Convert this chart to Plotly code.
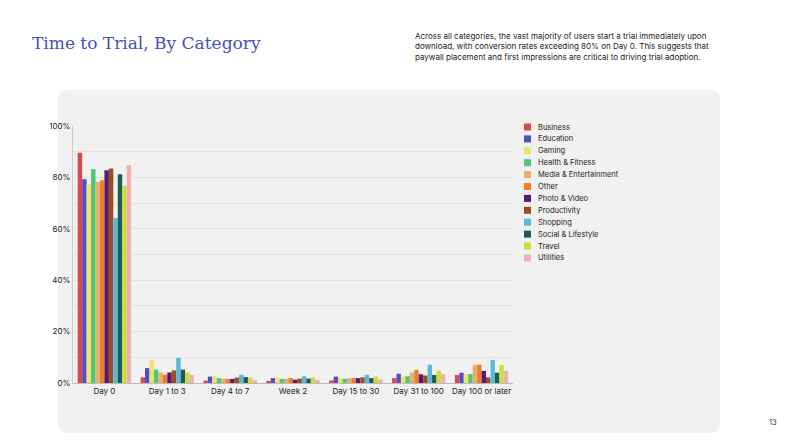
import plotly.graph_objects as go

periods = ["Day 0", "Day 1 to 3", "Day 4 to 7", "Week 2", "Day 15 to 30", "Day 31 to 100", "Day 100 or later"]
categories = ["Business", "Education", "Gaming", "Health & Fitness", "Media & Entertainment", "Other",
              "Photo & Video", "Productivity", "Shopping", "Social & Lifestyle", "Travel", "Utilities"]
colors = ["#d94a4f", "#4f4fc9", "#ede56b", "#4fc77a", "#e8b070", "#ee7f2a",
          "#5a1870", "#9a4f23", "#5cb8d9", "#1f5a55", "#c9de3b", "#eeb0b0"]
values = {
    "Business":              [89.6, 2.2, 0.9, 0.6, 1.0, 1.9, 3.1],
    "Education":             [79.3, 5.8, 2.5, 1.9, 2.5, 3.6, 4.0],
    "Gaming":                [77.3, 8.8, 2.9, 2.1, 2.1, 2.6, 3.5],
    "Health & Fitness":      [83.2, 5.2, 1.9, 1.6, 1.6, 2.6, 3.5],
    "Media & Entertainment": [78.2, 4.1, 1.7, 1.6, 1.9, 4.1, 7.1],
    "Other":                 [78.9, 3.2, 1.6, 1.9, 1.9, 5.1, 7.1],
    "Photo & Video":         [82.8, 4.1, 1.6, 1.3, 1.9, 3.4, 4.7],
    "Productivity":          [83.5, 4.9, 2.1, 1.7, 2.2, 2.9, 2.2],
    "Shopping":              [64.2, 9.8, 3.2, 2.6, 3.2, 7.1, 9.0],
    "Social & Lifestyle":    [81.2, 5.2, 2.3, 1.7, 1.9, 3.1, 4.0],
    "Travel":                [76.7, 4.1, 2.2, 2.1, 2.5, 4.8, 7.0],
    "Utilities":             [84.8, 3.1, 1.2, 1.2, 1.4, 3.4, 4.7],
}

W, H = 800, 447
L, R, T, B = 65, 295, 118, 72
pw, ph = W - L - R, H - T - B


def px(x):  # pixel -> paper x
    return (x - L) / pw


def py(y):  # pixel -> paper y
    return (H - B - y) / ph


fig = go.Figure()
for name, col in zip(categories, colors):
    fig.add_trace(go.Bar(x=periods, y=[v / 100 for v in values[name]], name=name,
                         marker_color=col, marker_line_width=0, showlegend=False))

# gray rounded panel behind the chart
x0, x1, y0, y1 = px(50), px(712), py(425), py(82)
rx, ry = 10 / pw, 10 / ph
fig.add_shape(type="path", xref="paper", yref="paper", layer="below", line_width=0, fillcolor="#f1f1f1",
              path=f"M {x0+rx},{y0} L {x1-rx},{y0} Q {x1},{y0} {x1},{y0+ry} L {x1},{y1-ry} Q {x1},{y1} {x1-rx},{y1} "
                   f"L {x0+rx},{y1} Q {x0},{y1} {x0},{y1-ry} L {x0},{y0+ry} Q {x0},{y0} {x0+rx},{y0} Z")

# compact legend
for i, (name, col) in enumerate(zip(categories, colors)):
    yc = 119 + i * 11.9
    fig.add_shape(type="rect", xref="paper", yref="paper", x0=px(516), x1=px(523),
                  y0=py(yc + 3.5), y1=py(yc - 3.5), fillcolor=col, line_width=0)
    fig.add_annotation(text=name, xref="paper", yref="paper", x=px(528), y=py(yc),
                       xanchor="left", yanchor="middle", showarrow=False,
                       font=dict(family="Inter", size=7.5, color="#222"))

fig.add_annotation(text="Time to Trial, By Category", xref="paper", yref="paper", x=px(22), y=py(35),
                   xanchor="left", yanchor="middle", showarrow=False,
                   font=dict(family="DejaVu Serif", size=17, color="#4a4fb8"))
fig.add_annotation(text="Across all categories, the vast majority of users start a trial immediately upon<br>"
                        "download, with conversion rates exceeding 80% on Day 0. This suggests that<br>"
                        "paywall placement and first impressions are critical to driving trial adoption.",
                   xref="paper", yref="paper", x=px(405), y=py(38), xanchor="left", yanchor="middle",
                   align="left", showarrow=False, font=dict(family="Inter", size=8, color="#222"))
fig.add_annotation(text="13", xref="paper", yref="paper", x=px(771), y=py(421), showarrow=False,
                   font=dict(family="Inter", size=7.5, color="#333"))

fig.update_layout(
    width=W, height=H,
    paper_bgcolor="white", plot_bgcolor="#f1f1f1",
    margin=dict(l=L, r=R, t=T, b=B, autoexpand=False),
    barmode="group", bargap=0.15, bargroupgap=0,
    font=dict(family="Inter", size=8, color="#222"),
    xaxis=dict(showgrid=False, showline=True, linecolor="#bbb", ticks=""),
    yaxis=dict(range=[0, 1], tickformat=".0%", gridcolor="#e2e2e2",
               showline=True, linecolor="#ccc", zeroline=False,
               tickvals=[0, 0.1, 0.2, 0.3, 0.4, 0.5, 0.6, 0.7, 0.8, 0.9, 1.0],
               ticktext=["0%", "", "20%", "", "40%", "", "60%", "", "80%", "", "100%"]),
)
fig.write_html("out.html")
